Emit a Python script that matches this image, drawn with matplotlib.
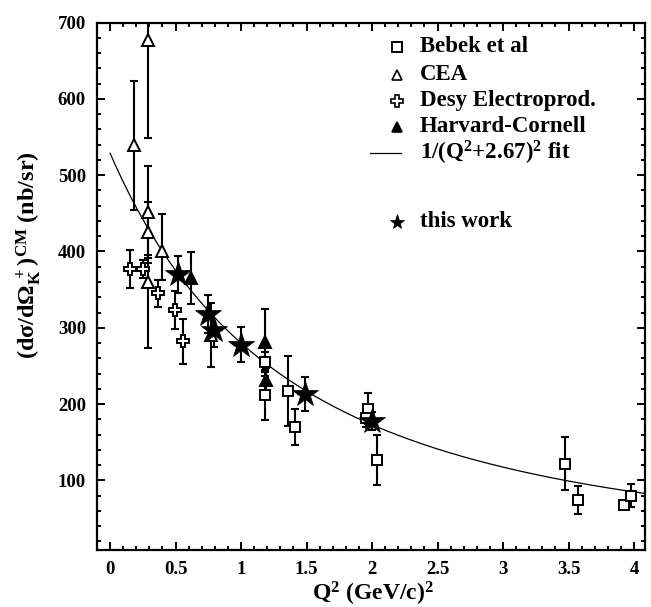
import numpy as np
import matplotlib
matplotlib.use("Agg")
import matplotlib.pyplot as plt
from matplotlib.ticker import MultipleLocator

plt.rcParams['font.family'] = ['Liberation Serif', 'DejaVu Serif']
plt.rcParams['font.weight'] = 'bold'
plt.rcParams['mathtext.fontset'] = 'custom'
plt.rcParams['mathtext.rm'] = 'Liberation Serif:bold'
plt.rcParams['mathtext.bf'] = 'Liberation Serif:bold'
plt.rcParams['mathtext.it'] = 'Liberation Serif:bold:italic'
plt.rcParams['mathtext.default'] = 'bf'

# ---- data ----
bebek_q2 = [1.18, 1.18, 1.36, 1.41, 1.97, 1.95, 2.04, 3.47, 3.575, 3.92, 3.98]
bebek_y = [255, 212, 217, 170, 194, 182, 127, 122, 74, 67, 80]
bebek_err = [13, 33, 46, 24, 20, 12, 33, 35, 18, 5, 15]

cea_q2 = [0.183, 0.29, 0.29, 0.29, 0.29, 0.394, 0.77]
cea_y = [539, 677, 452, 425, 360, 401, 290]
cea_err_lo = [85, 128, 60, 40, 87, 39, 42]
cea_err_hi = [85, 128, 60, 40, 36, 48, 42]

desy_q2 = [0.153, 0.254, 0.369, 0.496, 0.56]
desy_y = [377, 377, 345, 323, 282]
desy_err = [25, 12, 18, 25, 30]

hc_q2 = [0.618, 1.18, 1.19]
hc_y = [365, 281, 231]
hc_err = [34, 44, 16]

this_q2 = [0.52, 0.75, 0.79, 1.0, 1.49, 2.0]
this_y = [370, 318, 297, 278, 213, 178]
this_err = [24, 25, 22, 23, 22, 12]

fit_norm = 3770.0     # A / (Q^2 + 2.67)^2
fit_m2 = 2.67
fit_q2 = np.linspace(0.0, 4.08, 200)

x_ticks = [0, 0.5, 1, 1.5, 2, 2.5, 3, 3.5, 4]
x_ticklabels = ['0', '0.5', '1', '1.5', '2', '2.5', '3', '3.5', '4']
y_ticks = [100, 200, 300, 400, 500, 600, 700]

# ---- figure ----
fig = plt.figure(figsize=(6.51, 6.07), dpi=100)
ax = fig.add_axes([0.149, 0.0944, 0.842, 0.8682])

ax.plot(fit_q2, fit_norm / (fit_q2 + fit_m2) ** 2, color='black', lw=0.9, zorder=2)

eb = dict(fmt='none', ecolor='black', elinewidth=1.5, capsize=3, capthick=1.5, zorder=3)
ax.errorbar(cea_q2, cea_y, yerr=[cea_err_lo, cea_err_hi], **eb)
ax.errorbar(desy_q2, desy_y, yerr=desy_err, **eb)
ax.errorbar(hc_q2, hc_y, yerr=hc_err, **eb)
ax.errorbar(bebek_q2, bebek_y, yerr=bebek_err, **eb)
ax.errorbar(this_q2, this_y, yerr=this_err, **eb)

mk = dict(ls='none', mec='black', mew=1.4, zorder=4)
ax.plot(cea_q2, cea_y, marker='^', ms=8, mfc='white', **mk)
ax.plot(desy_q2, desy_y, marker='P', ms=9, mfc='white', **mk)
ax.plot(hc_q2, hc_y, marker='^', ms=8, mfc='black', **mk)
ax.plot(bebek_q2, bebek_y, marker='s', ms=7.5, mfc='white', **mk)
ax.plot(this_q2, this_y, marker='*', ms=19, mfc='black', ls='none', mec='black', mew=0.5, zorder=5)

ax.set_xlim(-0.1, 4.085)
ax.set_ylim(9, 700)
ax.set_xticks(x_ticks)
ax.set_xticklabels(x_ticklabels)
ax.set_yticks(y_ticks)
ax.xaxis.set_minor_locator(MultipleLocator(0.1))
ax.yaxis.set_minor_locator(MultipleLocator(20))
ax.tick_params(which='both', direction='in', top=True, right=True, width=1.4)
ax.tick_params(which='major', length=6, labelsize=13.5, pad=8)
ax.tick_params(which='minor', length=3)
for lab in ax.get_xticklabels() + ax.get_yticklabels():
    lab.set_fontweight('bold')
for s in ax.spines.values():
    s.set_linewidth(1.6)

ax.set_xlabel(r'Q$^{2}$ (GeV/c)$^{2}$', fontsize=17, fontweight='bold', va='top')
ax.xaxis.set_label_coords(0.504, -0.057)
ax.set_ylabel(r'(dσ/dΩ$_{\mathrm{K}}^{\;+}$)$^{\mathrm{CM}}$ (nb/sr)', fontsize=17.5, fontweight='bold')
ax.yaxis.set_label_coords(-0.098, 0.56)

# ---- legend (manual) ----
def fy(py):
    return 1 - (py - 22.7) / 527.0

mx = 0.547
tx = 0.589
rows = [46.7, 74.5, 100.5, 126.7, 153.0, 221.7]
labels = ['Bebek et al', 'CEA', 'Desy Electroprod.', 'Harvard-Cornell',
          r'1/(Q$^{2}$+2.67)$^{2}$ fit', 'this work']
t = ax.transAxes
ax.plot([mx], [fy(rows[0])], transform=t, marker='s', ms=7.5, mfc='white', mec='black', mew=1.4, clip_on=False)
ax.plot([mx], [fy(rows[1])], transform=t, marker='^', ms=7, mfc='white', mec='black', mew=1.2, clip_on=False)
ax.plot([mx], [fy(rows[2])], transform=t, marker='P', ms=8, mfc='white', mec='black', mew=1.2, clip_on=False)
ax.plot([mx], [fy(rows[3])], transform=t, marker='^', ms=7, mfc='black', mec='black', mew=1.2, clip_on=False)
ax.plot([0.498, 0.555], [fy(rows[4]), fy(rows[4])], transform=t, color='black', lw=0.9)
ax.plot([mx], [fy(rows[5])], transform=t, marker='*', ms=11, mfc='black', mec='black', mew=0.5, clip_on=False)
for r, lab in zip(rows, labels):
    ax.text(tx, fy(r), lab, transform=t, fontsize=16.5, fontweight='bold', va='center', ha='left')

fig.savefig('out.png', dpi=100)
